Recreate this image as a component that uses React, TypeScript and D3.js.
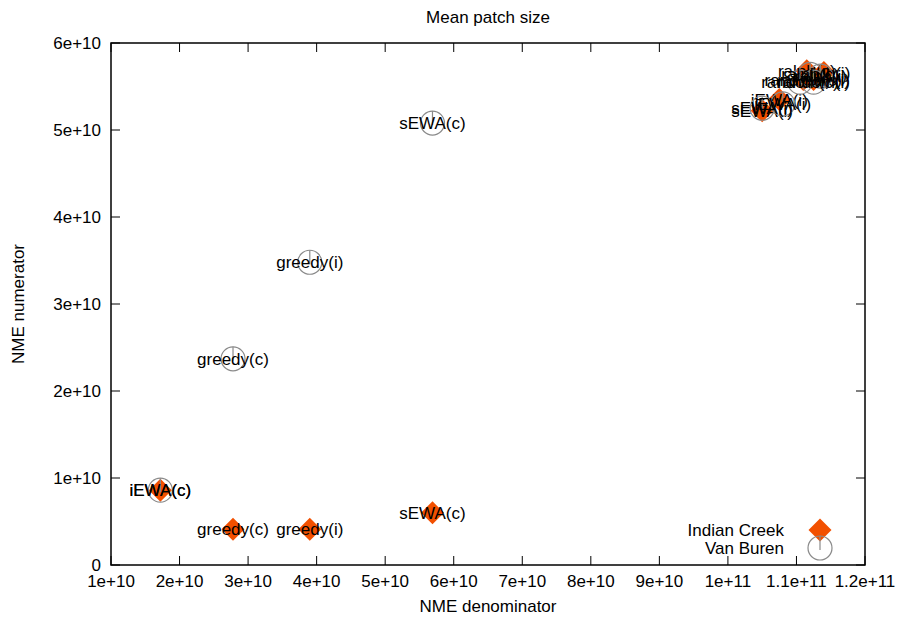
import React, { useEffect, useRef } from "react";
import * as d3 from "d3";

// point labels, same order for both sets
const methods = [
  "greedy(c)",
  "greedy(i)",
  "iEWA(c)",
  "sEWA(c)",
  "iEWA(i)",
  "sEWA(i)",
  "random(c)",
  "random(i)",
  "ralph(c)",
  "ralph(i)",
];

// NME denominator / numerator
const indianX = [2.78e10, 3.9e10, 1.72e10, 5.69e10, 1.075e11, 1.05e11, 1.11e11, 1.125e11, 1.115e11, 1.14e11];
const indianY = [4.1e9, 4.1e9, 8.6e9, 6.0e9, 5.35e10, 5.22e10, 5.58e10, 5.58e10, 5.68e10, 5.66e10];
const vanX = [2.78e10, 3.9e10, 1.72e10, 5.69e10, 1.08e11, 1.05e11, 1.105e11, 1.125e11, 1.12e11, 1.135e11];
const vanY = [2.37e10, 3.48e10, 8.6e9, 5.08e10, 5.3e10, 5.25e10, 5.55e10, 5.55e10, 5.64e10, 5.62e10];

const xTicks = [1e10, 2e10, 3e10, 4e10, 5e10, 6e10, 7e10, 8e10, 9e10, 1e11, 1.1e11, 1.2e11];
const xTickLabels = ["1e+10", "2e+10", "3e+10", "4e+10", "5e+10", "6e+10", "7e+10", "8e+10", "9e+10", "1e+11", "1.1e+11", "1.2e+11"];
const yTicks = [0, 1e10, 2e10, 3e10, 4e10, 5e10, 6e10];
const yTickLabels = ["0", "1e+10", "2e+10", "3e+10", "4e+10", "5e+10", "6e+10"];

const W = 904;
const H = 620;
const ORANGE = "#f25000";
const GREY = "#8a8a8a";
const FONT = "'Liberation Sans', Arial, sans-serif";

const App = () => {
  const svgRef = useRef<SVGSVGElement>(null);

  useEffect(() => {
    const svg = d3.select(svgRef.current);
    svg.selectAll("*").remove();

    const left = 111, right = 865, top = 43, bottom = 565;
    const x = d3.scaleLinear().domain([1e10, 1.2e11]).range([left, right]);
    const y = d3.scaleLinear().domain([0, 6e10]).range([bottom, top]);

    const g = svg.append("g").style("font-family", FONT).style("font-size", "17px");

    // ticks, mirrored on all sides, pointing inward
    const tl = 9;
    xTicks.forEach((t, i) => {
      g.append("line").attr("x1", x(t)).attr("x2", x(t)).attr("y1", bottom).attr("y2", bottom - tl).attr("stroke", "black");
      g.append("line").attr("x1", x(t)).attr("x2", x(t)).attr("y1", top).attr("y2", top + tl).attr("stroke", "black");
      g.append("text").attr("x", x(t)).attr("y", bottom + 22).attr("text-anchor", "middle").text(xTickLabels[i]);
    });
    yTicks.forEach((t, i) => {
      g.append("line").attr("x1", left).attr("x2", left + tl).attr("y1", y(t)).attr("y2", y(t)).attr("stroke", "black");
      g.append("line").attr("x1", right).attr("x2", right - tl).attr("y1", y(t)).attr("y2", y(t)).attr("stroke", "black");
      g.append("text").attr("x", left - 10).attr("y", y(t) + 6).attr("text-anchor", "end").text(yTickLabels[i]);
    });

    g.append("rect")
      .attr("x", left).attr("y", top)
      .attr("width", right - left).attr("height", bottom - top)
      .attr("fill", "none").attr("stroke", "black").attr("stroke-width", 1.5);

    const diamond = (sel: any, cx: number, cy: number) => {
      const r = 11.5;
      sel.append("path")
        .attr("d", `M${cx},${cy - r}L${cx + r},${cy}L${cx},${cy + r}L${cx - r},${cy}Z`)
        .attr("fill", ORANGE);
    };
    const circle = (sel: any, cx: number, cy: number) => {
      const r = 12;
      sel.append("circle").attr("cx", cx).attr("cy", cy).attr("r", r)
        .attr("fill", "none").attr("stroke", GREY).attr("stroke-width", 1.2);
      sel.append("line").attr("x1", cx).attr("x2", cx).attr("y1", cy - r).attr("y2", cy + 2)
        .attr("stroke", GREY).attr("stroke-width", 1.2);
    };

    // Indian Creek
    const ic = g.append("g");
    indianX.forEach((v, i) => diamond(ic, x(v), y(indianY[i])));
    indianX.forEach((v, i) =>
      ic.append("text").attr("x", x(v)).attr("y", y(indianY[i]) + 6).attr("text-anchor", "middle").text(methods[i])
    );

    // Van Buren
    const vb = g.append("g");
    vanX.forEach((v, i) => circle(vb, x(v), y(vanY[i])));
    vanX.forEach((v, i) =>
      vb.append("text").attr("x", x(v)).attr("y", y(vanY[i]) + 6).attr("text-anchor", "middle").text(methods[i])
    );

    // legend
    const lx = 820;
    g.append("text").attr("x", 784).attr("y", 536).attr("text-anchor", "end").text("Indian Creek");
    diamond(g, lx, 530);
    g.append("text").attr("x", 784).attr("y", 554).attr("text-anchor", "end").text("Van Buren");
    circle(g, lx, 548);

    // titles
    g.append("text").attr("x", (left + right) / 2).attr("y", 23).attr("text-anchor", "middle").text("Mean patch size");
    g.append("text").attr("x", (left + right) / 2).attr("y", 612).attr("text-anchor", "middle").text("NME denominator");
    g.append("text")
      .attr("transform", `translate(24,${(top + bottom) / 2}) rotate(-90)`)
      .attr("text-anchor", "middle").text("NME numerator");
  }, []);

  return (
    <svg
      ref={svgRef}
      width={W}
      height={H}
      style={{ position: "absolute", left: 0, top: 0, background: "white" }}
    />
  );
};

export default App;
